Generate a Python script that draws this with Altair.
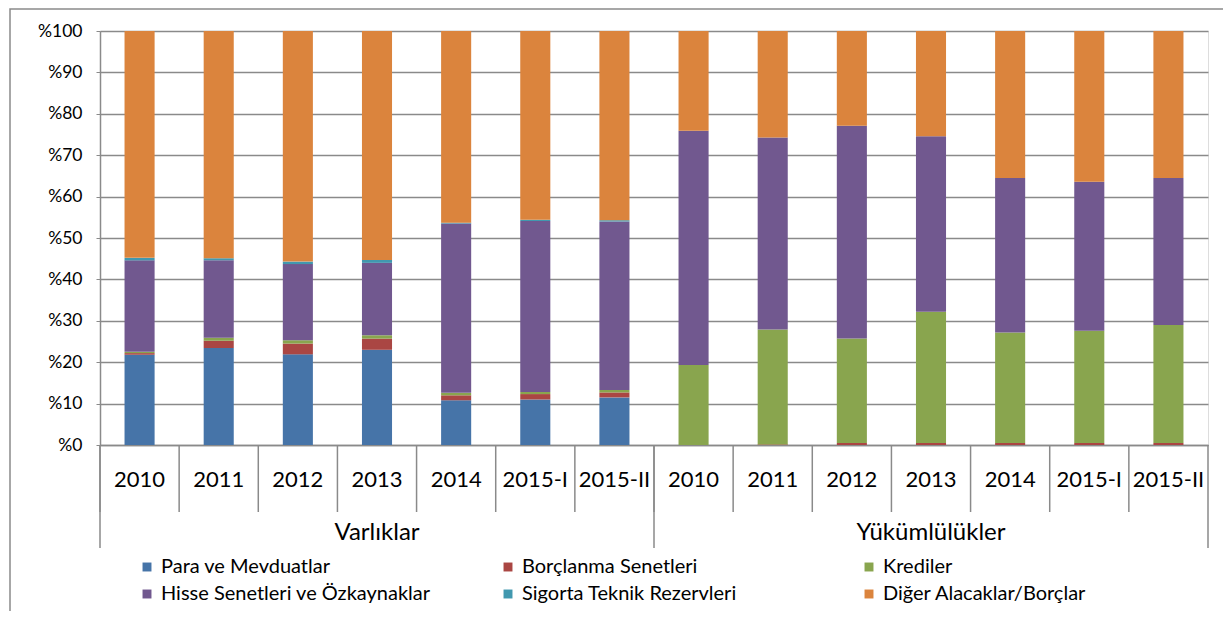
import altair as alt
import pandas as pd

groups = ["Varlıklar", "Yükümlülükler"]
periods = ["2010", "2011", "2012", "2013", "2014", "2015-I", "2015-II"]
series = ["Para ve Mevduatlar", "Borçlanma Senetleri", "Krediler",
          "Hisse Senetleri ve Özkaynaklar", "Sigorta Teknik Rezervleri",
          "Diğer Alacaklar/Borçlar"]
colors = ["#4674A8", "#AA4643", "#89A54E", "#71588F", "#4198AF", "#DB843D"]

# Varlıklar (assets), % share
a_para = [21.8, 23.4, 21.9, 23.0, 10.8, 11.0, 11.5]
a_borc = [0.4, 1.8, 2.6, 2.7, 1.2, 1.3, 1.2]
a_kred = [0.3, 0.7, 0.8, 0.8, 0.6, 0.5, 0.6]
a_hisse = [22.1, 18.7, 18.4, 17.5, 40.9, 41.3, 40.7]
a_sig = [0.6, 0.5, 0.6, 0.7, 0.2, 0.3, 0.3]
a_diger = [54.8, 54.9, 55.7, 55.3, 46.3, 45.6, 45.7]

# Yükümlülükler (liabilities), % share
l_para = [0.0, 0.0, 0.0, 0.0, 0.0, 0.0, 0.0]
l_borc = [0.0, 0.15, 0.5, 0.5, 0.5, 0.5, 0.5]
l_kred = [19.35, 27.75, 25.2, 31.7, 26.7, 27.1, 28.5]
l_hisse = [56.55, 46.4, 51.4, 42.4, 37.3, 36.0, 35.5]
l_sig = [0.0, 0.0, 0.0, 0.0, 0.0, 0.0, 0.0]
l_diger = [24.1, 25.7, 22.9, 25.4, 35.5, 36.4, 35.5]

y_ticks = [0, 10, 20, 30, 40, 50, 60, 70, 80, 90, 100]

data_by_group = {
    "Varlıklar": [a_para, a_borc, a_kred, a_hisse, a_sig, a_diger],
    "Yükümlülükler": [l_para, l_borc, l_kred, l_hisse, l_sig, l_diger],
}

keys = [f"{g}|{p}" for g in groups for p in periods]
rows = []
for g in groups:
    for si, s in enumerate(series):
        for pi, p in enumerate(periods):
            rows.append({"key": f"{g}|{p}", "series": s, "sidx": si,
                         "value": data_by_group[g][si][pi]})
df = pd.DataFrame(rows)

keys_df = pd.DataFrame({"key": keys})
last_df = pd.DataFrame({"key": [keys[-1]]})
group_start_df = pd.DataFrame({"key": [f"{g}|{periods[0]}" for g in groups]})
group_label_df = pd.DataFrame({"key": [f"{g}|{periods[3]}" for g in groups],
                               "label": groups})
frame_df = pd.DataFrame({"a": [0]})

FONT = "Lato"
GRAY = "#8a8a8a"
W, H = 1108, 414

xscale = alt.Scale(domain=keys, paddingInner=0, paddingOuter=0)

bars = alt.Chart(df).mark_bar(width=alt.RelativeBandSize(0.38)).encode(
    x=alt.X("key:N", scale=xscale, sort=None, title=None,
            axis=alt.Axis(labelExpr="split(datum.value, '|')[1]",
                          ticks=False, domain=True, domainColor=GRAY,
                          domainWidth=1.5, labelFont=FONT, labelFontSize=22,
                          labelColor="#000000", labelAngle=0,
                          labelBaseline="middle", labelPadding=34,
                          labelOverlap=False, grid=False)),
    y=alt.Y("value:Q", stack="zero", title=None,
            scale=alt.Scale(domain=[0, 100], nice=False),
            axis=alt.Axis(values=y_ticks, labelExpr="'%' + datum.value",
                          labelFont=FONT, labelFontSize=17.5, labelColor="#000000",
                          labelPadding=14, tickSize=4, tickColor=GRAY,
                          domainColor=GRAY, domainWidth=1.5,
                          gridColor=GRAY, gridWidth=1.5)),
    color=alt.Color("series:N",
                    scale=alt.Scale(domain=series, range=colors),
                    legend=alt.Legend(title=None, orient="none",
                                      legendX=37, legendY=526, columns=3,
                                      direction="horizontal", gridAlign="all",
                                      columnPadding=67, rowPadding=7,
                                      symbolType="square", symbolSize=80,
                                      symbolStrokeWidth=0,
                                      labelFont=FONT, labelFontSize=20,
                                      labelColor="#000000", labelLimit=400,
                                      labelOffset=4)),
    order=alt.Order("sidx:Q", sort="ascending"),
)

sep = alt.Chart(keys_df).mark_rule(color=GRAY, strokeWidth=1.5).encode(
    x=alt.X("key:N", bandPosition=0, title=None),
    y=alt.value(H), y2=alt.value(H + 67),
)

group_sep = alt.Chart(group_start_df).mark_rule(color=GRAY, strokeWidth=1.5).encode(
    x=alt.X("key:N", bandPosition=0, title=None),
    y=alt.value(H), y2=alt.value(H + 103),
)

end_sep = alt.Chart(last_df).mark_rule(color=GRAY, strokeWidth=1.5).encode(
    x=alt.X("key:N", bandPosition=1, title=None),
    y=alt.value(H), y2=alt.value(H + 103),
)

group_text = alt.Chart(group_label_df).mark_text(
    font=FONT, fontSize=24, color="#000000", baseline="middle"
).encode(
    x=alt.X("key:N", title=None),
    y=alt.value(H + 88),
    text="label:N",
)

frame = alt.Chart(frame_df).mark_rect(
    fillOpacity=0, stroke=GRAY, strokeWidth=1.5
).encode(
    x=alt.value(-90), x2=alt.value(W + 20),
    y=alt.value(-22), y2=alt.value(H + 220),
)

chart = alt.layer(frame, bars, sep, group_sep, end_sep, group_text).properties(
    width=W, height=H,
    autosize=alt.AutoSizeParams(type="none"),
    padding={"left": 92, "top": 23, "right": 15, "bottom": 166},
).configure_view(stroke=None).configure(background="white")

chart.save("out.html", embed_options={"renderer": "svg", "actions": False})
